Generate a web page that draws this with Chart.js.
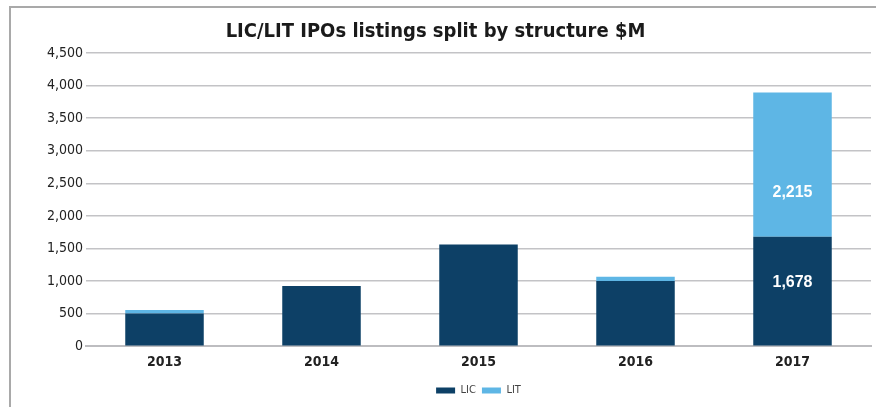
<!DOCTYPE html>
<html>
<head>
<meta charset="utf-8">
<script src="https://cdn.jsdelivr.net/npm/chart.js@4"></script>
<style>
  html, body { margin:0; padding:0; background:#fff; }
  #wrap { position:relative; width:876px; height:407px; overflow:hidden; }
  #frame { position:absolute; left:9px; top:6px; width:900px; height:500px;
           border-left:2px solid #a9a9a9; border-top:2px solid #a9a9a9; }
  canvas { position:absolute; left:0; top:0; }
</style>
</head>
<body>
<div id="wrap">
  <div id="frame"></div>
  <canvas id="ipoChart" width="876" height="407"></canvas>
</div>
<script>
// LIC / LIT IPO listings by year, $M
const years = ['2013', '2014', '2015', '2016', '2017'];
const licValues = [500, 925, 1560, 1000, 1678];
const litValues = [55, 0, 0, 65, 2215];
const yTicks = [0, 500, 1000, 1500, 2000, 2500, 3000, 3500, 4000, 4500];
const labeledYears = ['2017'];

const narrow = "'DejaVu Sans Condensed', 'Liberation Sans Narrow', sans-serif";

// value labels inside the 2017 segments
const segmentLabels = {
  id: 'segmentLabels',
  afterDatasetsDraw(chart) {
    const ctx = chart.ctx;
    ctx.save();
    ctx.fillStyle = '#ffffff';
    ctx.font = "bold 16px 'Liberation Sans', Arial, sans-serif";
    ctx.textAlign = 'center';
    ctx.textBaseline = 'middle';
    chart.data.datasets.forEach((ds, i) => {
      const meta = chart.getDatasetMeta(i);
      meta.data.forEach((bar, j) => {
        if (!labeledYears.includes(years[j])) return;
        const y = bar.base - ds.labelFrac * (bar.base - bar.y);
        ctx.fillText(ds.data[j].toLocaleString('en-US'), bar.x, y);
      });
    });
    ctx.restore();
  }
};

new Chart(document.getElementById('ipoChart'), {
  type: 'bar',
  data: {
    labels: years,
    datasets: [
      { label: 'LIC', data: licValues, backgroundColor: '#0d4066', labelFrac: 0.58 },
      { label: 'LIT', data: litValues, backgroundColor: '#5eb6e5', labelFrac: 0.31 }
    ]
  },
  options: {
    responsive: false,
    animation: false,
    layout: { padding: { left: 0, right: 5, bottom: 1 } },
    datasets: { bar: { categoryPercentage: 1, barPercentage: 0.5 } },
    plugins: {
      title: {
        display: true,
        text: 'LIC/LIT IPOs listings split by structure $M',
        color: '#1a1a1a',
        font: { family: narrow, size: 20, weight: 'bold' },
        padding: { top: 20, bottom: 9 }
      },
      legend: {
        position: 'bottom',
        fullSize: false,
        labels: {
          boxWidth: 19, boxHeight: 6, padding: 6,
          color: '#444',
          font: { family: narrow, size: 11 }
        }
      },
      tooltip: { enabled: false }
    },
    scales: {
      x: {
        stacked: true,
        afterFit(scale) { scale.height += 8; },
        grid: { display: false },
        border: { color: '#bdbdc0', width: 2 },
        ticks: { color: '#222', padding: 0, font: { family: narrow, size: 14, weight: 'bold' } }
      },
      y: {
        stacked: true,
        min: 0, max: 4500,
        afterBuildTicks(scale) { scale.ticks = yTicks.map(v => ({ value: v })); },
        afterFit(scale) { scale.width = 86; },
        grid: { color: '#c3c3c6', lineWidth: 1.5, drawTicks: false },
        border: { display: false },
        ticks: {
          color: '#222', padding: 3,
          font: { family: narrow, size: 14 },
          callback: v => v.toLocaleString('en-US')
        }
      }
    }
  },
  plugins: [segmentLabels]
});
</script>
</body>
</html>
